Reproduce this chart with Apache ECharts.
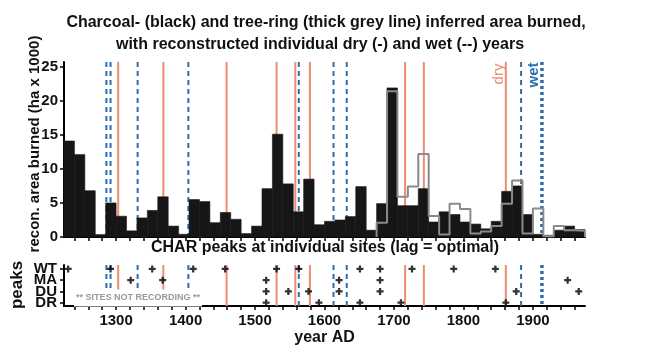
<!DOCTYPE html>
<html><head><meta charset="utf-8">
<script src="https://cdn.jsdelivr.net/npm/echarts@6/dist/echarts.min.js"></script>
<style>html,body{margin:0;padding:0;background:#fff}#c{width:650px;height:350px}</style>
</head><body><div id="c"></div>
<script>
// ---- data ----
const binStart = 1225;
const binWidth = 15;
const charcoal = [14.1,12.1,6.8,0.35,5.0,3.05,0.9,2.8,3.9,5.9,1.6,0.4,5.5,5.2,2.1,3.6,2.6,0.5,1.6,7.1,
                  15.1,7.8,3.7,8.5,1.8,2.3,2.5,3.0,7.4,1.0,4.9,21.9,4.6,4.6,7.1,2.2,3.7,3.3,2.2,1.9,
                  1.2,2.3,6.7,7.5,3.3,0.4,0.25,1.0,1.6,1.1];
const treeRingStart = 1675;
const treeRing = [2.1,21.4,5.9,7.4,12.2,3.1,0.35,4.9,4.1,0.5,0.8,1.6,4.9,8.3,0.5,4.2,0.1,1.6,1.0,0.9];
const dryYears = [1303,1368,1459,1531,1558,1579,1716,1743,1861];
const wetYears = [1286,1292,1331,1404,1563,1613,1632,1883];
const wetYearsBold = [1913];
const peaksWT = [1231,1292,1352,1411,1457,1531,1563,1651,1680,1726,1786,1846];
const peaksMA = [1321,1367,1516,1621,1680,1950];
const peaksDU = [1516,1548,1577,1621,1680,1876,1966];
const peaksDR = [1516,1592,1651,1710,1861];
const siteLabels = ['DR','DU','MA','WT'];
const yTicks = [0,5,10,15,20,25];
const xLabelYears = [1300,1400,1500,1600,1700,1800,1900];

// ---- chart ----
const F = "'Liberation Sans Narrow','Liberation Sans',Arial,sans-serif";
const SALMON = '#EE8B72', BLUE = '#2C6DB2', BAR = '#161616', GREY = '#8a8a8a';
const xMin = binStart, xMax = binStart + binWidth * charcoal.length;
const minorTicks = [];
for (let y = 1240; y < xMax; y += 20) minorTicks.push(y);

const greyPts = [[treeRingStart, 0]];
treeRing.forEach((v, i) => {
  const s = treeRingStart + i * binWidth;
  greyPts.push([s, v], [s + binWidth, v]);
});
greyPts.push([treeRingStart + treeRing.length * binWidth, 0]);

// kind: 0 dry, 1 wet, 2 wet (bold)
const yearLines = [].concat(
  dryYears.map(y => [y, 1, 0]), wetYears.map(y => [y, 1, 1]), wetYearsBold.map(y => [y, 1, 2]));
const lineStyles = [
  {stroke: SALMON, lineWidth: 2},
  {stroke: BLUE, lineWidth: 2, lineDash: [5, 4]},
  {stroke: BLUE, lineWidth: 3.5, lineDash: [3, 3]}
];
function yearLineSeries(xi, yi) {
  return {type: 'custom', xAxisIndex: xi, yAxisIndex: yi, z: 1, data: yearLines, encode: {x: 0, y: 1},
    renderItem: (params, api) => {
      const cs = params.coordSys;
      const x = api.coord([api.value(0), api.value(1)])[0];
      return {type: 'line', shape: {x1: x, y1: cs.y, x2: x, y2: cs.y + cs.height},
        style: Object.assign({}, lineStyles[api.value(2)])};
    }};
}

const plusPath = 'path://M3.4,0H6.6V3.4H10V6.6H6.6V10H3.4V6.6H0V3.4H3.4Z';
function row(years, level) {
  return {type: 'scatter', xAxisIndex: 1, yAxisIndex: 1, symbol: plusPath, symbolSize: 7,
    itemStyle: {color: '#000'}, z: 5, data: years.map(y => [y, level])};
}

const axisBlack = {show: true, lineStyle: {color: '#000', width: 2}};
const chart = echarts.init(document.getElementById('c'));
chart.setOption({
  animation: false,
  textStyle: {fontFamily: F},
  grid: [
    {left: 64, right: 65, top: 62, bottom: 113},
    {left: 64, right: 65, top: 265, bottom: 44}
  ],
  xAxis: [
    {type: 'value', gridIndex: 0, min: xMin, max: xMax, axisLine: axisBlack,
     axisTick: {show: true, customValues: minorTicks, length: 4, lineStyle: {color: '#000', width: 1.5}},
     axisLabel: {show: false}, splitLine: {show: false}},
    {type: 'value', gridIndex: 1, min: xMin, max: xMax, axisLine: axisBlack,
     axisTick: {show: true, customValues: minorTicks, length: 4, lineStyle: {color: '#000', width: 1.5}},
     axisLabel: {customValues: xLabelYears, formatter: v => String(v), fontFamily: F, fontWeight: 'bold',
       fontSize: 15, color: '#111', margin: 7},
     splitLine: {show: false},
     name: 'year AD', nameLocation: 'middle', nameGap: 24,
     nameTextStyle: {fontFamily: F, fontWeight: 'bold', fontSize: 16, color: '#111'}}
  ],
  yAxis: [
    {type: 'value', gridIndex: 0, min: 0, max: 25.7, axisLine: axisBlack,
     axisTick: {show: true, customValues: yTicks, length: 4, lineStyle: {color: '#000', width: 1.5}},
     axisLabel: {show: true, customValues: yTicks, formatter: v => String(v), fontFamily: F, fontWeight: 'bold',
       fontSize: 15, color: '#111', margin: 6},
     splitLine: {show: false}},
    {type: 'value', gridIndex: 1, min: 0.7, max: 4.35, axisLine: axisBlack,
     axisTick: {show: true, customValues: [1, 2, 3, 4], length: 4, lineStyle: {color: '#000', width: 1.5}},
     axisLabel: {show: false},
     splitLine: {show: false}}
  ],
  series: [
    yearLineSeries(0, 0),
    {type: 'custom', xAxisIndex: 0, yAxisIndex: 0, z: 2,
     data: charcoal.map((v, i) => [binStart + i * binWidth, v]),
     encode: {x: 0, y: 1},
     renderItem: (params, api) => {
       const x0 = api.value(0), v = api.value(1);
       const p0 = api.coord([x0, v]);
       const p1 = api.coord([x0 + binWidth, 0]);
       return {type: 'rect', shape: {x: p0[0], y: p0[1], width: p1[0] - p0[0], height: p1[1] - p0[1]},
         style: {fill: BAR, stroke: BAR, lineWidth: 0.6}};
     }},
    {type: 'line', xAxisIndex: 0, yAxisIndex: 0, z: 3, data: greyPts, symbol: 'none',
     lineStyle: {color: GREY, width: 2}},
    yearLineSeries(1, 1),
    row(peaksWT, 4), row(peaksMA, 3), row(peaksDU, 2), row(peaksDR, 1)
  ],
  graphic: [
    {type: 'text', x: 326, y: 23, z: 10,
     style: {text: 'Charcoal- (black) and tree-ring (thick grey line) inferred area burned,', fill: '#111',
       font: "bold 16px " + F, align: 'center', verticalAlign: 'middle'}},
    {type: 'text', x: 320, y: 45, z: 10,
     style: {text: 'with reconstructed individual dry (-) and wet (--) years', fill: '#111',
       font: "bold 16px " + F, align: 'center', verticalAlign: 'middle'}},
    {type: 'text', x: 325, y: 248, z: 10,
     style: {text: 'CHAR peaks at individual sites (lag = optimal)', fill: '#111',
       font: "bold 16px " + F, align: 'center', verticalAlign: 'middle'}},
    {type: 'text', x: 35, y: 144, rotation: Math.PI / 2, z: 10,
     style: {text: 'recon. area burned (ha x 1000)', fill: '#111', font: "bold 15px " + F,
       align: 'center', verticalAlign: 'middle'}},
    {type: 'text', x: 17, y: 285, rotation: Math.PI / 2, z: 10,
     style: {text: 'peaks', fill: '#111', font: "bold 17px " + F, align: 'center', verticalAlign: 'middle'}},
    {type: 'text', x: 499, y: 74, rotation: Math.PI / 2, z: 10,
     style: {text: 'dry', fill: SALMON, font: "15px " + F, align: 'center', verticalAlign: 'middle'}},
    {type: 'text', x: 534, y: 75, rotation: Math.PI / 2, z: 10,
     style: {text: 'wet', fill: BLUE, font: "bold 15px " + F, align: 'center', verticalAlign: 'middle'}},
    {type: 'text', x: 74, y: 298, z: 20,
     style: {text: '** SITES NOT RECORDING **', fill: '#999', font: "bold 9px " + F,
       align: 'left', verticalAlign: 'middle', backgroundColor: '#fff', padding: [4, 2, 4, 2]}}
  ]
});
// site labels of the lower panel, placed through the lower axes
const siteGraphics = siteLabels.map((s, i) => {
  const p = chart.convertToPixel({xAxisIndex: 1, yAxisIndex: 1}, [xMin, i + 1]);
  return {id: 'site' + i, type: 'text', x: p[0] - 7, y: p[1], z: 10,
    style: {text: s, fill: '#111', font: "bold 15px " + F, align: 'right', verticalAlign: 'middle'}};
});
chart.setOption({graphic: siteGraphics});
</script></body></html>
